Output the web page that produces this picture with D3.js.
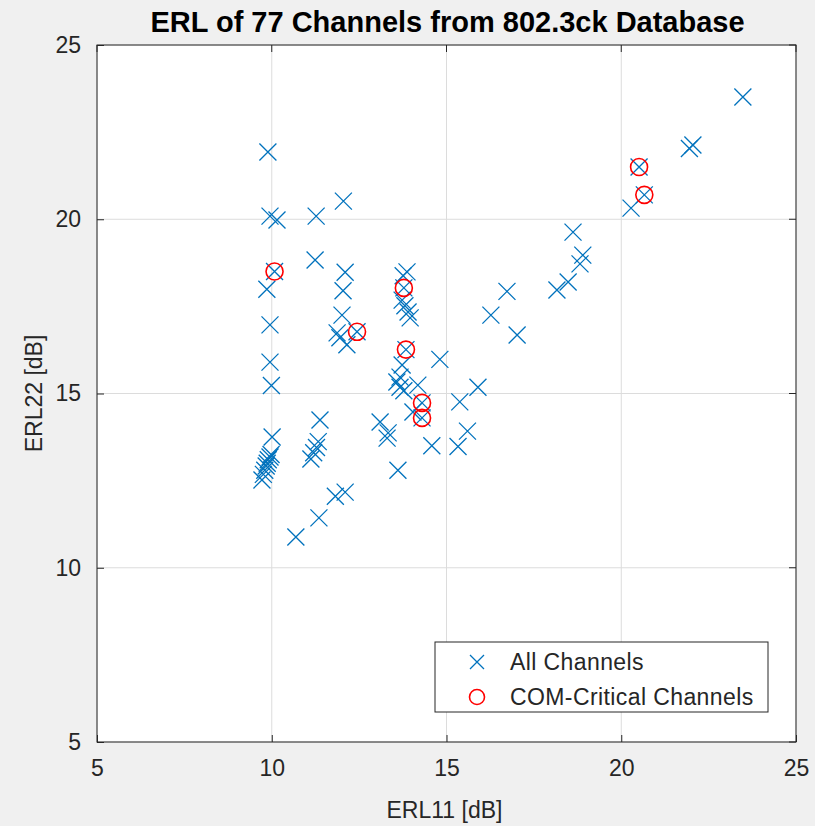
<!DOCTYPE html>
<html>
<head>
<meta charset="utf-8">
<script src="https://cdn.jsdelivr.net/npm/d3@7"></script>
<style>
  html, body { margin: 0; padding: 0; background: #f0f0f0; }
  svg { display: block; font-family: "Liberation Sans", Arial, Helvetica, sans-serif; }
</style>
</head>
<body>
<svg id="chart" width="815" height="826"></svg>
<script>
// ---- Data ----
const allERL11 = [9.89, 9.95, 10.15, 11.27, 12.05, 10.08, 11.24, 12.10, 9.86, 12.04,
  9.95, 9.95, 9.99, 10.01, 12.01, 11.87, 11.95, 12.15, 12.44, 13.87,
  13.76, 13.78, 13.73, 13.81, 13.90, 13.96, 13.84, 13.73, 13.67, 13.58,
  13.67, 13.78, 14.18, 14.81, 16.27, 15.90, 15.38, 14.30, 14.30, 14.04,
  13.10, 13.33, 13.30, 14.58, 13.61, 15.60, 15.33, 18.62, 18.90, 18.82,
  18.48, 18.16, 16.73, 17.02, 23.48, 22.05, 21.95, 20.51, 20.66, 20.28,
  10.69, 11.35, 11.82, 12.10, 11.38, 11.12, 11.20, 11.28, 11.33, 9.72,
  9.76, 9.80, 9.84, 9.87, 9.90, 9.95, 9.98];
const allERL22 = [21.93, 20.09, 19.98, 20.09, 20.52, 18.50, 18.83, 18.48, 17.99, 17.95,
  16.97, 15.90, 15.23, 13.75, 17.25, 16.74, 16.60, 16.40, 16.77, 18.49,
  18.38, 18.03, 17.68, 17.52, 17.34, 17.17, 16.26, 15.82, 15.47, 15.33,
  15.18, 15.08, 15.24, 15.98, 17.25, 15.18, 14.76, 14.73, 14.30, 14.47,
  14.18, 13.87, 13.72, 13.50, 12.80, 13.92, 13.48, 19.63, 18.97, 18.72,
  18.20, 17.97, 17.93, 16.68, 23.51, 22.13, 22.03, 21.50, 20.70, 20.32,
  10.88, 11.43, 12.05, 12.17, 14.24, 13.12, 13.30, 13.45, 13.62, 12.52,
  12.68, 12.80, 12.92, 13.00, 13.10, 13.18, 13.25];
const critERL11 = [10.08, 12.44, 13.78, 13.84, 14.30, 14.30, 20.51, 20.66];
const critERL22 = [18.50, 16.77, 18.03, 16.26, 14.73, 14.30, 21.50, 20.70];
const tickValues = [5, 10, 15, 20, 25];
const titleText = "ERL of 77 Channels from 802.3ck Database";
const xLabelText = "ERL11 [dB]";
const yLabelText = "ERL22 [dB]";
const legendLabels = ["All Channels", "COM-Critical Channels"];

// ---- Layout ----
const L = 97, R = 796, T = 45, B = 742;
const blue = "#0072BD", red = "#FF0000", axisCol = "#262626";

const svg = d3.select("#chart");
const x = d3.scaleLinear().domain([5, 25]).range([L, R]);
const y = d3.scaleLinear().domain([5, 25]).range([B, T]);

svg.append("rect").attr("x", L).attr("y", T).attr("width", R - L).attr("height", B - T).attr("fill", "#fff");

// grid
const grid = svg.append("g").attr("stroke", "#dcdcdc").attr("stroke-width", 1);
tickValues.forEach(v => {
  grid.append("line").attr("x1", x(v)).attr("x2", x(v)).attr("y1", T).attr("y2", B);
  grid.append("line").attr("y1", y(v)).attr("y2", y(v)).attr("x1", L).attr("x2", R);
});

// axes
const xAxis = d3.axisBottom(x).tickValues(tickValues).tickSize(-7).tickPadding(18).tickFormat(d3.format("d"));
const yAxis = d3.axisLeft(y).tickValues(tickValues).tickSize(-7).tickPadding(16).tickFormat(d3.format("d"));
const gx = svg.append("g").attr("transform", `translate(0,${B})`).call(xAxis);
const gy = svg.append("g").attr("transform", `translate(${L},0)`).call(yAxis);
[gx, gy].forEach(g => {
  g.select(".domain").remove();
  g.selectAll("line").attr("stroke", axisCol);
  g.selectAll("text").attr("fill", axisCol).style("font-size", "23px").style("font-family", "Liberation Sans, Arial, sans-serif");
});
// top/right ticks
tickValues.forEach(v => {
  svg.append("line").attr("x1", x(v)).attr("x2", x(v)).attr("y1", T).attr("y2", T + 7).attr("stroke", axisCol);
  svg.append("line").attr("y1", y(v)).attr("y2", y(v)).attr("x1", R).attr("x2", R - 7).attr("stroke", axisCol);
});
svg.append("rect").attr("x", L).attr("y", T).attr("width", R - L).attr("height", B - T)
  .attr("fill", "none").attr("stroke", axisCol).attr("stroke-width", 1);

// points: x markers
const s = 8.5;
const gAll = svg.append("g").attr("stroke", blue).attr("stroke-width", 1.3).attr("fill", "none");
allERL11.forEach((v, i) => {
  const cx = x(v), cy = y(allERL22[i]);
  gAll.append("path").attr("d", `M${cx - s},${cy - s}L${cx + s},${cy + s}M${cx - s},${cy + s}L${cx + s},${cy - s}`);
});
const gCrit = svg.append("g").attr("stroke", red).attr("stroke-width", 1.6).attr("fill", "none");
critERL11.forEach((v, i) => {
  gCrit.append("circle").attr("cx", x(v)).attr("cy", y(critERL22[i])).attr("r", 8.5);
});

// title & labels
svg.append("text").attr("x", (L + R) / 2 + 1).attr("y", 32).attr("text-anchor", "middle")
  .style("font-size", "29px").style("font-weight", "bold").attr("fill", "#000").text(titleText);
svg.append("text").attr("x", (L + R) / 2 - 2).attr("y", 818).attr("text-anchor", "middle")
  .style("font-size", "23px").attr("fill", axisCol).text(xLabelText);
svg.append("text").attr("transform", `translate(42,${(T + B) / 2}) rotate(-90)`).attr("text-anchor", "middle")
  .style("font-size", "23px").attr("fill", axisCol).text(yLabelText);

// legend
const lg = svg.append("g");
lg.append("rect").attr("x", 435).attr("y", 642).attr("width", 333).attr("height", 70)
  .attr("fill", "#fff").attr("stroke", axisCol).attr("stroke-width", 1);
const m1x = 477, m1y = 662, ls = 7;
lg.append("path").attr("d", `M${m1x - ls},${m1y - ls}L${m1x + ls},${m1y + ls}M${m1x - ls},${m1y + ls}L${m1x + ls},${m1y - ls}`)
  .attr("stroke", blue).attr("stroke-width", 1.3);
lg.append("circle").attr("cx", m1x).attr("cy", 697).attr("r", 7.5).attr("fill", "none").attr("stroke", red).attr("stroke-width", 1.6);
legendLabels.forEach((t, i) => {
  lg.append("text").attr("x", 510).attr("y", 662 + i * 35).attr("dy", "0.35em")
    .style("font-size", "23px").style("letter-spacing", "0.4px").attr("fill", axisCol).text(t);
});
</script>
</body>
</html>
